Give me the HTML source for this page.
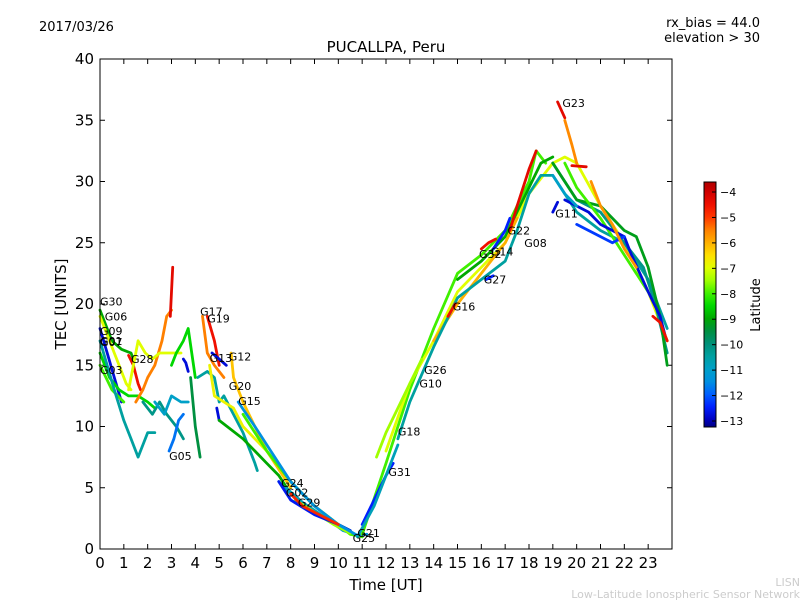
<!DOCTYPE html>
<html><head><meta charset="utf-8"><style>
body{margin:0;background:#fff;font-family:"Liberation Sans","DejaVu Sans",sans-serif}
svg text{font-family:"DejaVu Sans","Liberation Sans",sans-serif}
</style></head><body>
<svg id="c" width="800" height="600" xmlns="http://www.w3.org/2000/svg">
<rect width="800" height="600" fill="#fff"/>
<text x="39" y="31" font-size="13">2017/03/26</text>
<text x="760" y="27" font-size="13" text-anchor="end">rx_bias = 44.0</text>
<text x="760" y="42" font-size="13" text-anchor="end">elevation &gt; 30</text>
<text x="386" y="52" font-size="15" text-anchor="middle">PUCALLPA, Peru</text>
<text x="386" y="590" font-size="15" text-anchor="middle">Time [UT]</text>
<text transform="translate(66,304) rotate(-90)" font-size="15" text-anchor="middle">TEC [UNITS]</text>
<text x="800" y="586" font-size="11" fill="#ccc" text-anchor="end">LISN</text>
<text x="800" y="598" font-size="11" fill="#ccc" text-anchor="end">Low-Latitude Ionospheric Sensor Network</text>
<g id="grid"></g>
<g id="tracks"></g>
<g id="labels"></g>
<rect x="100" y="59" width="572" height="490" fill="none" stroke="#000"/>
<defs><linearGradient id="jet" x1="0" y1="1" x2="0" y2="0"></linearGradient></defs>
<rect x="704" y="182" width="12" height="245" fill="url(#jet)" stroke="#000"/>
<g id="cbticks"></g>
<text transform="translate(760,305) rotate(-90)" font-size="13" text-anchor="middle">Latitude</text>
</svg>
<script>
const xTicks=[0,1,2,3,4,5,6,7,8,9,10,11,12,13,14,15,16,17,18,19,20,21,22,23];
const yTicks=[0,5,10,15,20,25,30,35,40];
const cbTicks=[-4,-5,-6,-7,-8,-9,-10,-11,-12,-13];
const trackLats=[-9,-7,-12.8,-8.5,-8,-10.5,-4.5,-5.5,-7,-8.5,-4.3,-10.2,-11,-11.8,-12.8,-9.5,-10.5,-5.5,-4.5,-12.8,-12.8,-6.2,-6.8,
-9,-10.5,-10.8,-8,-7.5,-12.6,-11.5,-4.8,
-8,-9,-7,-6,-10.5,-10.2,-9.2,-8,-4.5,-4.5,-4.3,-12.5,-12.5,-12.8,-12.8,-12.3,-11,-4.3,-5.6,-4.3,-5.7,-4.5,-7.5,-12.5,-10.8];
const trackTimes=[
[0,0.5,0.9,1.3,1.4],
[0,0.4,0.8,1.1,1.3],
[0,0.3,0.6,0.9],
[0,0.4,0.8,1.2,1.6,2,2.3],
[0,0.5,1],
[0,0.6,1,1.3,1.6,2,2.3],
[1.2,1.4,1.6,1.7],
[1.5,1.8,2,2.3,2.6,2.8,3],
[1.2,1.4,1.6,1.9,2.2,2.5,3,3.4],
[3,3.2,3.5,3.7,4],
[2.95,3,3.05],
[1.8,2.2,2.5,2.8,3.2,3.5],
[2.3,2.7,3,3.4,3.7],
[2.9,3.1,3.3,3.5],
[3.5,3.6,3.7],
[3.8,4,4.2],
[4.1,4.5,4.8,5,5.2,6,6.5,6.6],
[4.3,4.5,4.8,5.2],
[4.5,4.8,5],
[4.7,5,5.3],
[4.9,5],
[5.5,5.6,6,6.5,7,7.5,8],
[4.6,4.8,5.2,5.6,6,7,8,9,10,10.5],
[5,6,6.5,7,7.5,8,9,10,10.5],
[7.5,8,9,10],
[7.8,8.5,9.5,10.2,11],
[6,7,8,9,10,10.5,11],
[8.2,9,9.8,10.5],
[7.5,8,9,10,10.5],
[5.8,6.5,7,8,9,10,10.8,11.2],
[8,8.5,9,10],
[11,12,13,14,15,16,17,18,18.3,18.7],
[15,16,17,18,18.5,19],
[12,13,14,15,16,17,18,19,19.5,20,21,22,23,23.8],
[14,15,16,17,17.5],
[12.5,13,14,15,16,17,17.5,18,18.5,19,19.5,20,21,22,23,23.8],
[19,20,21,22,22.8,23.3,23.8],
[19,20,21,22,22.5,23,23.5,23.8],
[19.5,20,21,22,23],
[14.6,14.9],
[16,16.3,16.6],
[17.2,17.5,18,18.3],
[16.2,16.5],
[16.5,17,17.2],
[19,19.2],
[19.5,20,20.5,21,21.5,22,22.3,23,23.5,23.7],
[20,20.5,21,21.5,22],
[19,19.5,20],
[19.2,19.5],
[19.5,19.8,20],
[19.8,20.4],
[20.6,21,21.5,22,22.5],
[23.2,23.5,23.8],
[11.6,12,12.5,13,13.5],
[11,11.5,12,12.3],
[10.8,11.5,12,12.5]];
const trackTec=[
[19.5,17,16.3,16,15.5],
[19,17,15,13.5,13],
[18,16,14,12],
[16,14,13,12.5,12.5,12,11.5],
[15,13,12],
[17,13,10.5,9,7.5,9.5,9.5],
[15.8,15,13.5,13],
[12,13,14,15,17,19,19.5],
[13,15,17,16,15.5,16,16,16],
[15,16,17,18,14],
[19,21,23],
[12,11,12,11,10,9],
[12,11,12.5,12,12],
[8,9,10.5,11],
[15.5,15.2,14.5],
[14,10,7.5],
[14,14.5,14,12,12.5,9.5,7,6.4],
[19,16,15,14],
[19,17,15],
[16,15.5,15],
[11.5,10.5],
[16,14,12,10,8,6.5,5],
[15,12.5,12,11.5,10,8,5.5,3.5,2,1.2],
[10.5,9,8,7,6,4.5,3,2,1.5],
[5.5,4.5,3,2],
[5,3.8,2.5,1.5,1],
[11,8,5.5,3.5,2,1.2,1],
[4,3,2,1.3],
[5.5,4,2.8,2,1.5],
[12,10,8.5,5.5,3.5,2,1.1,1.2],
[4.5,3.5,3,2],
[1.2,7,13,18,22.5,24,26,30,32.5,31.5],
[22,23.5,25.5,29.5,31.5,32],
[8,13.5,17,21,23,25,29,31.5,32,31.5,28,25,21,17],
[17,20,22.5,25,27],
[9,12,16.5,20.5,22,23.5,26,29,30.5,30.5,29,27.5,26,25,22,18],
[31.5,28.5,27.5,25,23,20,16],
[31.5,28.5,28,26,25.5,23,19,15],
[31.5,29.5,27,24,21],
[19,20],
[24.5,25,25.3],
[26,28,31,32.5],
[22,22.3],
[24.5,26,27],
[27.5,28.3],
[28.5,28,27.5,26.5,26,25.5,24,21,19,17.5],
[26.5,26,25.5,25,25.5],
[30.5,29,28],
[36.5,35.2],
[35,33,31.5],
[31.3,31.2],
[30,28,26.5,24.5,23],
[19,18.5,17],
[7.5,9.5,11.5,13.5,15.5],
[2,4,6,7],
[1,3.5,6,8.5]];
const labelNames=["G30","G06","G09","G01","G03","G28","G05","G17","G19","G13","G12","G20","G15","G24","G02","G29","G31","G18","G10","G26","G16","G32","G14","G27","G08","G22","G11","G23","G21","G25","G07"];
const labelT=[0,0.2,0,0,0,1.3,2.9,4.2,4.5,4.6,5.4,5.4,5.8,7.6,7.8,8.3,12.1,12.5,13.4,13.6,14.8,15.9,16.4,16.1,17.8,17.1,19.1,19.4,10.8,10.6,0];
const labelV=[20.2,19,17.8,17,14.6,15.5,7.6,19.4,18.8,15.6,15.7,13.3,12.1,5.4,4.6,3.8,6.3,9.6,13.5,14.6,19.8,24.1,24.3,22,25,26,27.4,36.4,1.3,0.9,16.9];
const X=t=>100+t*572/24, Y=v=>549-v*490/40;
const cbY=l=>192+(-4-l)*(421-192)/9;
const cmapLat=[-13.3,-13,-12.5,-12,-11.5,-11,-10.5,-10,-9.5,-9,-8.5,-8,-7.5,-7,-6.5,-6,-5.5,-5,-4.5,-4,-3.6];
const cmapCol=["#000080","#0000c0","#0020ff","#0060ff","#0090e0","#00a0c8","#00a0a0","#009078","#009040","#00a800","#00d800","#40f000","#a0ff00","#e0ff00","#ffe000","#ffb000","#ff8000","#ff3800","#f01000","#d00000","#b00000"];
function hex(h){return [1,3,5].map(i=>parseInt(h.substr(i,2),16));}
function jet(l){
 if(l<=cmapLat[0])return cmapCol[0];
 for(let i=1;i<cmapLat.length;i++){if(l<=cmapLat[i]){const f=(l-cmapLat[i-1])/(cmapLat[i]-cmapLat[i-1]);const a=hex(cmapCol[i-1]),b=hex(cmapCol[i]);return 'rgb('+a.map((v,k)=>Math.round(v+(b[k]-v)*f)).join(',')+')';}}
 return cmapCol[cmapCol.length-1];}
const NS="http://www.w3.org/2000/svg";
function mk(tag,attrs,parent,txt){const e=document.createElementNS(NS,tag);for(const k in attrs)e.setAttribute(k,attrs[k]);if(txt!==undefined)e.textContent=txt;(typeof parent==='string'?document.getElementById(parent):parent).appendChild(e);return e;}
const grad=document.getElementById('jet');
cmapLat.forEach((l,i)=>{mk('stop',{offset:((l+13.3)/(13.3-3.6)).toFixed(3),'stop-color':cmapCol[i]},grad);});
xTicks.forEach(t=>{
 const l=mk('line',{x1:X(t),x2:X(t),y1:549,y2:544,stroke:'#000'},'grid');
 
 
 const l2=mk('line',{x1:X(t),x2:X(t),y1:59,y2:64,stroke:'#000'},'grid');
 
 
 const tx=mk('text',{x:X(t),y:568,'font-size':15,'text-anchor':'middle'},'grid',String(t));
 
 
});
yTicks.forEach(v=>{
 const l=mk('line',{x1:100,x2:105,y1:Y(v),y2:Y(v),stroke:'#000'},'grid');
 
 
 const l2=mk('line',{x1:667,x2:672,y1:Y(v),y2:Y(v),stroke:'#000'},'grid');
 
 
 const tx=mk('text',{x:94,y:Y(v)+5,'font-size':15,'text-anchor':'end'},'grid',String(v));
 
 
});
cbTicks.forEach(l=>{
 const ln=mk('line',{x1:712,x2:716,y1:cbY(l),y2:cbY(l),stroke:'#000'},'cbticks');
 
 
 const tx=mk('text',{x:720,y:cbY(l)+4,'font-size':11},'cbticks','\u2212'+String(-l));
 
 
});
trackTimes.forEach((ts,i)=>{
 const pts=ts.map((t,j)=>X(t).toFixed(1)+','+Y(trackTec[i][j]).toFixed(1)).join(' ');
 const p=mk('polyline',{points:pts,fill:'none',stroke:jet(trackLats[i]),'stroke-width':2.8,'stroke-linejoin':'round','stroke-linecap':'round'},'tracks');
 
 
});
labelNames.forEach((n,i)=>{
 const tx=mk('text',{x:X(labelT[i]),y:Y(labelV[i])+4,'font-size':11},'labels',n);
 
 
});
</script>
</body></html>
